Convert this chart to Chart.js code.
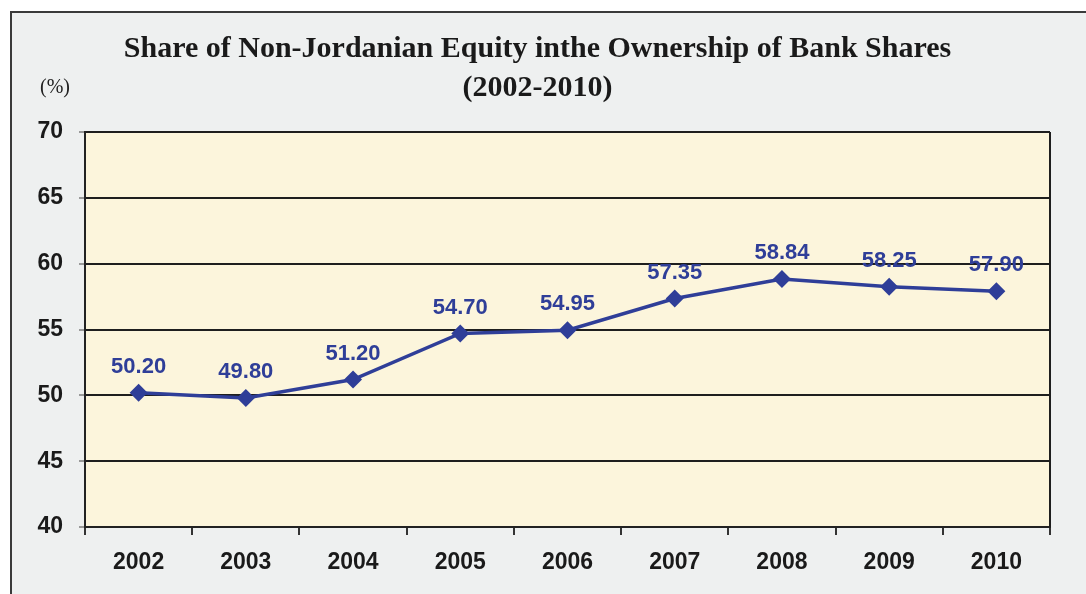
<!DOCTYPE html>
<html>
<head>
<meta charset="utf-8">
<title>Share of Non-Jordanian Equity</title>
<script src="https://cdn.jsdelivr.net/npm/chart.js@4"></script>
<style>
    body { margin: 0; background: #ffffff; }
    #frame {
        position: absolute; left: 10px; top: 11px; width: 1090px; height: 600px;
        background: #eef0f0; border: 2px solid #3a3a3a;
    }
    #chart { position: absolute; left: 0; top: 0; }
</style>
</head>
<body>
<div id="frame"></div>
<canvas id="chart" width="1086" height="594"></canvas>
<script>
// Chart data
const years = ['2002', '2003', '2004', '2005', '2006', '2007', '2008', '2009', '2010'];
const shareValues = [50.20, 49.80, 51.20, 54.70, 54.95, 57.35, 58.84, 58.25, 57.90];
const titleLines = ['Share of Non-Jordanian Equity inthe Ownership of Bank Shares', '(2002-2010)'];
const unitLabel = '(%)';

const lineColor = '#2f3e98';
const sansFont = '"Liberation Sans", Arial, sans-serif';
const serifFont = '"Liberation Serif", "Times New Roman", serif';

// cream plot background and the right-hand border of the plot box
const plotBackground = {
    id: 'plotBackground',
    beforeDraw(chart) {
        const { ctx, chartArea: a } = chart;
        ctx.save();
        ctx.fillStyle = '#fcf5dc';
        ctx.fillRect(a.left, a.top, a.right - a.left, a.bottom - a.top);
        ctx.restore();
    },
    afterDatasetsDraw(chart) {
        const { ctx, chartArea: a } = chart;
        ctx.save();
        ctx.strokeStyle = '#1e1e1e';
        ctx.lineWidth = 2;
        ctx.beginPath();
        ctx.moveTo(a.right, a.top);
        ctx.lineTo(a.right, a.bottom);
        ctx.stroke();
        ctx.restore();
    }
};

// value labels above each point, plus the unit text
const valueLabels = {
    id: 'valueLabels',
    afterDatasetsDraw(chart) {
        const { ctx } = chart;
        const meta = chart.getDatasetMeta(0);
        ctx.save();
        ctx.font = 'bold 22px ' + sansFont;
        ctx.fillStyle = lineColor;
        ctx.textAlign = 'center';
        ctx.textBaseline = 'middle';
        meta.data.forEach((pt, i) => {
            ctx.fillText(shareValues[i].toFixed(2), pt.x, pt.y - 26);
        });
        ctx.font = '20px ' + serifFont;
        ctx.fillStyle = '#222';
        ctx.fillText(unitLabel, 55, 88);
        ctx.restore();
    }
};

new Chart(document.getElementById('chart').getContext('2d'), {
    type: 'line',
    data: {
        labels: years,
        datasets: [{
            data: shareValues,
            borderColor: lineColor,
            backgroundColor: lineColor,
            borderWidth: 3.5,
            pointStyle: 'rectRot',
            pointRadius: 6.5,
            pointBackgroundColor: lineColor,
            pointBorderColor: lineColor,
            tension: 0
        }]
    },
    plugins: [plotBackground, valueLabels],
    options: {
        responsive: false,
        animation: false,
        layout: { padding: { left: 25, right: 36, top: 30, bottom: 0 } },
        plugins: {
            legend: { display: false },
            tooltip: { enabled: false },
            title: {
                display: true,
                text: titleLines,
                color: '#1a1a1a',
                font: { family: serifFont, size: 30, weight: 'bold', lineHeight: 1.3 },
                padding: { top: 0, bottom: 24 }
            }
        },
        scales: {
            x: {
                offset: true,
                afterFit(scale) { scale.height = 67; },
                grid: {
                    offset: true,
                    drawOnChartArea: false,
                    drawTicks: true,
                    tickLength: 8,
                    color: '#333',
                    lineWidth: 2
                },
                border: { color: '#222', width: 2 },
                ticks: {
                    color: '#1a1a1a',
                    padding: 14,
                    font: { family: sansFont, size: 23, weight: 'bold' }
                }
            },
            y: {
                min: 40,
                max: 70,
                afterFit(scale) { scale.width = 60; },
                grid: {
                    color: '#1e1e1e',
                    lineWidth: 2,
                    tickLength: 6,
                    tickColor: '#999'
                },
                border: { color: '#222', width: 2 },
                ticks: {
                    stepSize: 5,
                    color: '#1a1a1a',
                    padding: 16,
                    font: { family: sansFont, size: 23, weight: 'bold' }
                }
            }
        }
    }
});
</script>
</body>
</html>
